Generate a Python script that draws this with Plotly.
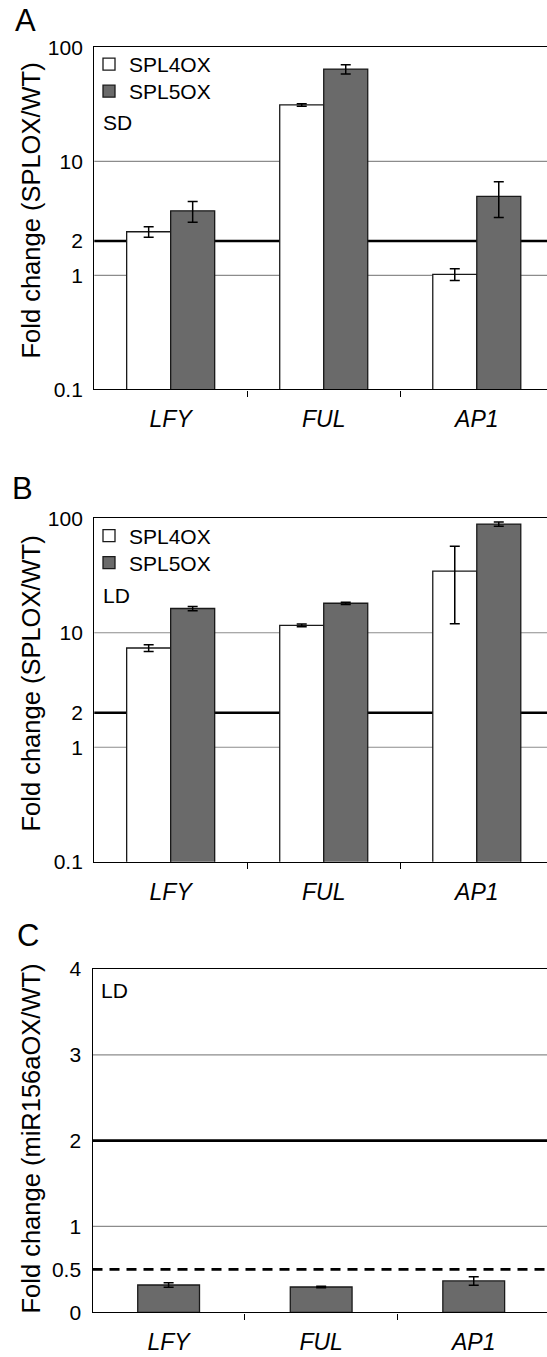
import plotly.graph_objects as go

# ---------------- data ----------------
genes = ["LFY", "FUL", "AP1"]

# Panel A (SD)
spl4_sd = [2.41, 31.2, 1.02]
spl4_sd_err = [0.25, 0.8, 0.12]
spl5_sd = [3.68, 64.4, 4.92]
spl5_sd_err = [0.76, 6.0, 1.7]

# Panel B (LD)
spl4_ld = [7.36, 11.6, 34.5]
spl4_ld_err = [0.5, 0.3, 22.5]
spl5_ld = [16.3, 18.1, 89.0]
spl5_ld_err = [0.7, 0.4, 3.7]

# Panel C (LD, miR156aOX)
mir_ld = [0.318, 0.295, 0.365]
mir_ld_err = [0.025, 0.008, 0.05]

log_tickvals = [0.1, 1, 2, 10, 100]
log_ticktext = ["0.1", "1", "2", "10", "100"]
lin_tickvals = [0, 0.5, 1, 2, 3, 4]
lin_ticktext = ["0", "0.5", "1", "2", "3", "4"]

grid_AB = [1, 10]
thick_AB = [2]
grid_C = [1, 3]
thick_C = [2]
dashed_C = [0.5]

# ---------------- style ----------------
W, H = 547, 1357
FONT = "Liberation Sans, Arial, Helvetica, sans-serif"
WHITE = "#ffffff"
DARK = "#6a6a6a"
EDGE = "#1a1a1a"
GRIDC = "#8c8c8c"


def px_x(p):
    return p / W


def px_y(p):
    return 1 - p / H


err_style = dict(type="data", color="black", thickness=1.5, width=5, visible=True)

fig = go.Figure()

# Panel A
fig.add_trace(go.Bar(x=genes, y=spl4_sd, name="SPL4OX",
                     error_y=dict(array=spl4_sd_err, **err_style),
                     marker=dict(color=WHITE, line=dict(color=EDGE, width=1.3)),
                     xaxis="x", yaxis="y", legend="legend"))
fig.add_trace(go.Bar(x=genes, y=spl5_sd, name="SPL5OX",
                     error_y=dict(array=spl5_sd_err, **err_style),
                     marker=dict(color=DARK, line=dict(color=EDGE, width=1.3)),
                     xaxis="x", yaxis="y", legend="legend3"))
# Panel B
fig.add_trace(go.Bar(x=genes, y=spl4_ld, name="SPL4OX",
                     error_y=dict(array=spl4_ld_err, **err_style),
                     marker=dict(color=WHITE, line=dict(color=EDGE, width=1.3)),
                     xaxis="x2", yaxis="y2", legend="legend2"))
fig.add_trace(go.Bar(x=genes, y=spl5_ld, name="SPL5OX",
                     error_y=dict(array=spl5_ld_err, **err_style),
                     marker=dict(color=DARK, line=dict(color=EDGE, width=1.3)),
                     xaxis="x2", yaxis="y2", legend="legend4"))
# Panel C
fig.add_trace(go.Bar(x=genes, y=mir_ld, name="miR156aOX", width=0.405,
                     error_y=dict(array=mir_ld_err, **err_style),
                     marker=dict(color=DARK, line=dict(color=EDGE, width=1.3)),
                     xaxis="x3", yaxis="y3", showlegend=False))

xcommon = dict(type="category", showline=True, mirror=True, linecolor="black", linewidth=1.4,
               ticks="outside", tickson="boundaries", ticklen=6, tickcolor="black", tickwidth=1.2,
               tickfont=dict(family=FONT, size=23, color="black", style="italic"),
               showgrid=False, zeroline=False, ticklabelstandoff=9)
ycommon = dict(showline=True, mirror=False, linecolor="black", linewidth=1.4,
               ticks="", showgrid=False, zeroline=False,
               tickfont=dict(family=FONT, size=21, color="black"), ticklabelstandoff=6)

panels = {
    "A": dict(top=47.3, bottom=389.3, left=94.3, catw=153.0),
    "B": dict(top=518.3, bottom=861.7, left=94.3, catw=153.0),
    "C": dict(top=969.0, bottom=1312.3, left=92.5, catw=152.5),
}

layout = dict(width=W, height=H, margin=dict(l=0, r=0, t=0, b=0, autoexpand=False),
              paper_bgcolor="white", plot_bgcolor="white",
              barmode="group", bargap=0.425, bargroupgap=0.0,
              font=dict(family=FONT, color="black"), showlegend=True)

for idx, key in enumerate(["A", "B", "C"]):
    p = panels[key]
    sfx = "" if idx == 0 else str(idx + 1)
    xr = (W - p["left"]) / p["catw"] - 0.5
    layout["xaxis" + sfx] = dict(xcommon, domain=[px_x(p["left"]), 1.0], anchor="y" + sfx,
                                 range=[-0.499, xr], automargin=False)
    if key in ("A", "B"):
        layout["yaxis" + sfx] = dict(ycommon, type="log", range=[-1, 2], anchor="x" + sfx,
                                     domain=[px_y(p["bottom"]), px_y(p["top"])],
                                     tickvals=log_tickvals, ticktext=log_ticktext,
                                     automargin=False)
    else:
        layout["yaxis" + sfx] = dict(ycommon, type="linear", range=[0, 4], anchor="x" + sfx,
                                     domain=[px_y(p["bottom"]), px_y(p["top"])],
                                     tickvals=lin_tickvals, ticktext=lin_ticktext,
                                     automargin=False)

shapes = []


def hline(axis_sfx, v, color, width, dash="solid"):
    shapes.append(dict(type="line", xref="x%s domain" % axis_sfx, x0=0, x1=1,
                       yref="y%s" % axis_sfx, y0=v, y1=v, layer="below",
                       line=dict(color=color, width=width, dash=dash)))


for sfx in ["", "2"]:
    for v in grid_AB:
        hline(sfx, v, GRIDC, 1.2)
    for v in thick_AB:
        hline(sfx, v, "black", 2.6)
for v in grid_C:
    hline("3", v, GRIDC, 1.2)
for v in thick_C:
    hline("3", v, "black", 2.6)
for v in dashed_C:
    hline("3", v, "black", 2.6, dash="10px,7px")

layout["shapes"] = shapes

ann = []
# panel letters
for letter, x, y in [("A", 13, 21), ("B", 10, 488.5), ("C", 14.5, 935.5)]:
    ann.append(dict(text=letter, x=px_x(x), y=px_y(y), xref="paper", yref="paper",
                    xanchor="left", yanchor="middle", showarrow=False,
                    font=dict(family=FONT, size=31, color="black")))
# y titles
for txt, y in [("Fold change (SPLOX/WT)", 211), ("Fold change (SPLOX/WT)", 684),
               ("Fold change (miR156aOX/WT)", 1139)]:
    ann.append(dict(text=txt, x=px_x(30.5), y=px_y(y), xref="paper", yref="paper",
                    xanchor="center", yanchor="middle", textangle=-90, showarrow=False,
                    font=dict(family=FONT, size=25.5, color="black")))
# condition labels
for txt, x, y in [("SD", 101, 122.5), ("LD", 101, 595), ("LD", 99.4, 990)]:
    ann.append(dict(text=txt, x=px_x(x), y=px_y(y), xref="paper", yref="paper",
                    xanchor="left", yanchor="middle", showarrow=False,
                    font=dict(family=FONT, size=21, color="black")))
layout["annotations"] = ann

leg = dict(xanchor="left", yanchor="top", bgcolor="rgba(0,0,0,0)", borderwidth=0,
           traceorder="normal", font=dict(family=FONT, size=21, color="black"),
           itemclick=False, itemdoubleclick=False)
LEGX = px_x(89)
layout["legend"] = dict(leg, x=LEGX, y=px_y(44))
layout["legend3"] = dict(leg, x=LEGX, y=px_y(71))
layout["legend2"] = dict(leg, x=LEGX, y=px_y(515.5))
layout["legend4"] = dict(leg, x=LEGX, y=px_y(542.5))

fig.update_layout(**layout)
fig.write_html("out.html", config={"displayModeBar": False},
               post_script="document.body.style.margin='0px';")
